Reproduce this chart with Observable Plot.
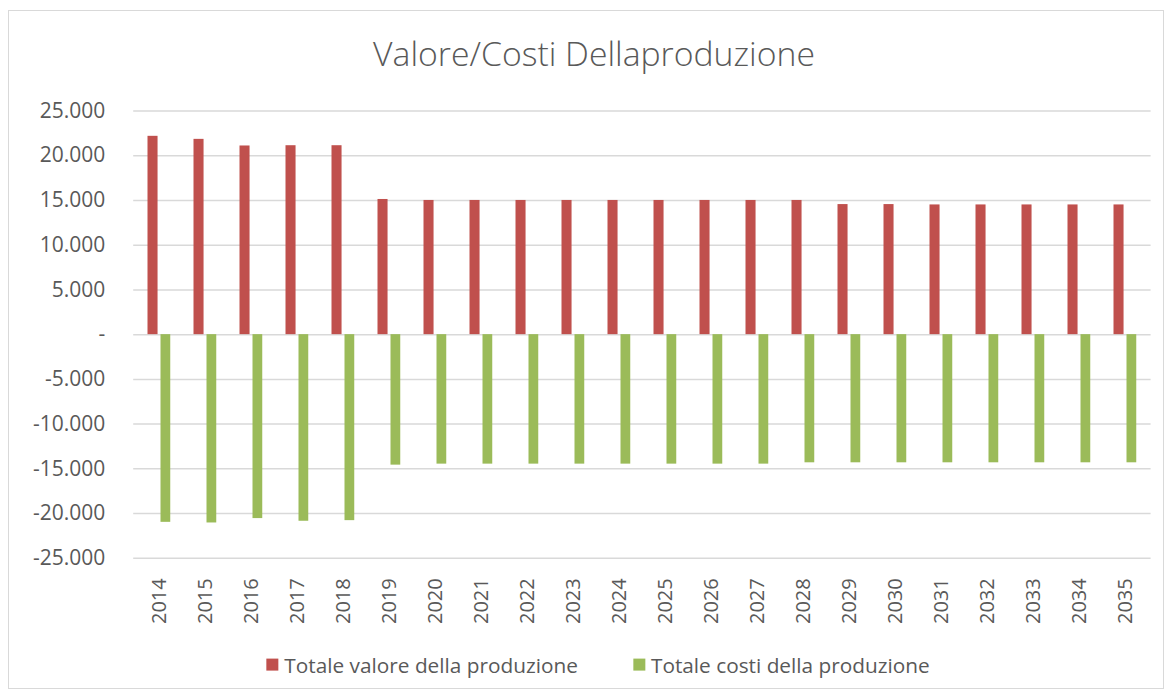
<!DOCTYPE html>
<html>
<head>
<meta charset="utf-8">
<script src="https://cdn.jsdelivr.net/npm/d3@7"></script>
<script src="https://cdn.jsdelivr.net/npm/@observablehq/plot@0.6"></script>
<style>
  html, body { margin: 0; padding: 0; background: #fff; }
  #wrap { position: relative; width: 1169px; height: 697px; overflow: hidden; font-family: "Open Sans", sans-serif; color: #595959; }
  #frame { position: absolute; left: 8px; top: 10px; width: 1156px; height: 679px; border: 1px solid #d9d9d9; box-sizing: border-box; }
  #title { position: absolute; left: 594px; top: 54px; transform: translate(-50%, -50%); white-space: nowrap; font-size: 30px; font-weight: 300; color: #595959; line-height: 1; }
  #chart { position: absolute; left: 0; top: 90px; }
  #legend { position: absolute; left: 598px; top: 665px; transform: translate(-50%, -50%); display: flex; align-items: center; white-space: nowrap; font-size: 20.8px; color: #595959; line-height: 1; }
  .sw { display: inline-block; width: 12px; height: 12px; margin-right: 6px; }
  .item { display: flex; align-items: center; }
  .item + .item { margin-left: 55px; }
</style>
</head>
<body>
<div id="wrap">
  <div id="frame"></div>
  <div id="title">Valore/Costi Dellaproduzione</div>
  <div id="chart"></div>
  <div id="legend"></div>
</div>
<script>
const years = ["2014","2015","2016","2017","2018","2019","2020","2021","2022","2023","2024","2025","2026","2027","2028","2029","2030","2031","2032","2033","2034","2035"];
const valore = [22170, 21830, 21090, 21120, 21120, 15110, 15000, 15000, 15000, 15000, 15000, 15000, 15000, 15000, 15000, 14540, 14540, 14500, 14500, 14500, 14500, 14500];
const costi = [-20980, -21050, -20560, -20860, -20790, -14586, -14474, -14474, -14474, -14474, -14474, -14474, -14474, -14474, -14325, -14325, -14325, -14325, -14325, -14325, -14325, -14325];
const seriesNames = ["Totale valore della produzione", "Totale costi della produzione"];
const seriesColors = ["#C0504D", "#9BBB59"];
const yTicks = [-25000, -20000, -15000, -10000, -5000, 0, 5000, 10000, 15000, 20000, 25000];

const locale = d3.formatLocale({decimal: ",", thousands: ".", grouping: [3], currency: ["", ""], minus: "-"});
const fmt = locale.format(",");
const yFormat = d => d === 0 ? "-" : fmt(d);

const valoreData = years.map((y, i) => ({year: y, value: valore[i]}));
const costiData = years.map((y, i) => ({year: y, value: costi[i]}));

const chart = Plot.plot({
  width: 1169,
  height: 550,
  marginTop: 20.5,
  marginBottom: 82.2,
  marginLeft: 133.2,
  marginRight: 18.4,
  style: {fontFamily: "Open Sans, sans-serif", color: "#595959", background: "transparent", overflow: "visible"},
  x: {type: "band", domain: years, padding: 0, label: null},
  y: {domain: [-25000, 25000], label: null},
  marks: [
    Plot.gridY(yTicks, {stroke: "#d9d9d9", strokeOpacity: 1, strokeWidth: 1.5}),
    Plot.axisY(yTicks, {tickSize: 0, tickPadding: 28.5, tickFormat: yFormat, fontSize: 21, fill: "#595959"}),
    Plot.barY(valoreData, {x: "year", y: "value", fill: seriesColors[0], insetLeft: 11.5, insetRight: 24.45}),
    Plot.barY(costiData, {x: "year", y: "value", fill: seriesColors[1], insetLeft: 24.5, insetRight: 11.75}),
    Plot.axisX({tickRotate: -90, tickSize: 0, tickPadding: 20, fontSize: 20, fill: "#595959"})
  ]
});
document.getElementById("chart").appendChild(chart);

const legend = document.getElementById("legend");
seriesNames.forEach((n, i) => {
  const it = document.createElement("span");
  it.className = "item";
  const sw = document.createElement("span");
  sw.className = "sw";
  sw.style.background = seriesColors[i];
  it.appendChild(sw);
  it.appendChild(document.createTextNode(n));
  legend.appendChild(it);
});

// fit title width to reference
const t = document.getElementById("title");
const w = t.getBoundingClientRect().width;
t.style.fontSize = (30 * 442 / w) + "px";
</script>
</body>
</html>
